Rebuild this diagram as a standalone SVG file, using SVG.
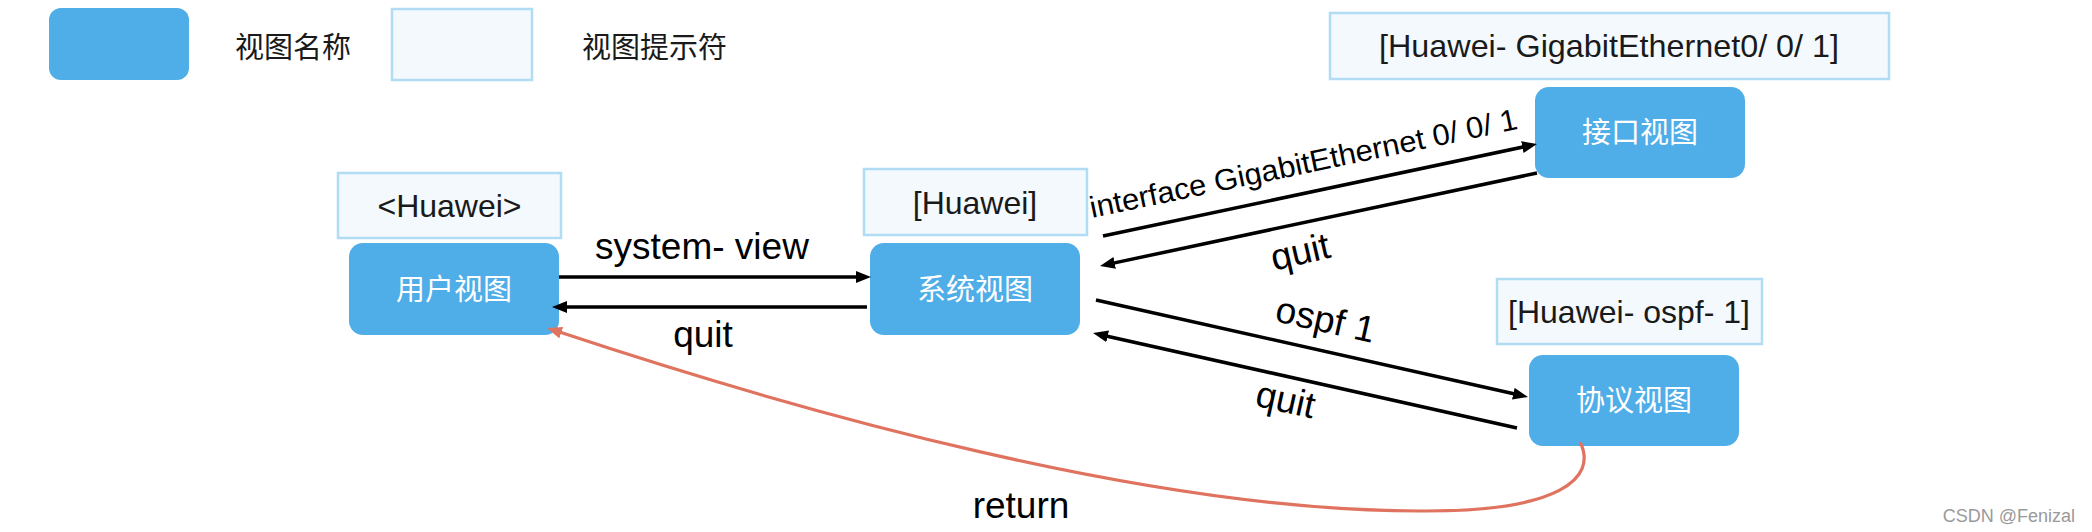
<svg xmlns="http://www.w3.org/2000/svg" width="2092" height="532" viewBox="0 0 2092 532">
<style>
.view{fill:#4fade7;}
.prompt{fill:#f3f9fd;stroke:#b0ddf4;stroke-width:2.5;}
.vt{font-family:"Noto Sans CJK SC","Noto Sans",sans-serif;font-size:29px;fill:#ffffff;text-anchor:middle;}
.lg{font-family:"Noto Sans CJK SC","Noto Sans",sans-serif;font-size:29px;fill:#1a1a1a;}
.pt{font-family:"Liberation Sans",Arial,sans-serif;font-size:32px;fill:#1a1a1a;text-anchor:middle;}
.lb{font-family:"Liberation Sans",Arial,sans-serif;font-size:37px;fill:#000000;}
.lbs{font-family:"Liberation Sans",Arial,sans-serif;font-size:30px;fill:#000000;}
.arr{fill:none;stroke:#000000;stroke-width:3.5;marker-end:url(#ah);}
.ret{fill:none;stroke:#e0735f;stroke-width:3.2;marker-end:url(#ahr);}
.wm{font-family:"Liberation Sans",Arial,sans-serif;font-size:18px;fill:#9a9a9a;text-anchor:end;}
</style>
<defs>
<marker id="ah" markerUnits="userSpaceOnUse" markerWidth="16" markerHeight="14" refX="5" refY="6" orient="auto">
<path d="M0,0 L15,6 L0,12 z" fill="#000000"/>
</marker>
<marker id="ahr" markerUnits="userSpaceOnUse" markerWidth="16" markerHeight="14" refX="5" refY="6" orient="auto">
<path d="M0,0 L15,6 L0,12 z" fill="#e0735f"/>
</marker>
</defs>
<rect width="2092" height="532" fill="#ffffff"/>

<g id="legend">
<rect class="view" x="49" y="8" width="140" height="72" rx="12"/>
<text class="lg" x="235" y="58">视图名称</text>
<rect class="prompt" x="392" y="9" width="140" height="71"/>
<text class="lg" x="582" y="58">视图提示符</text>
</g>

<g id="user-view">
<rect class="prompt" x="338" y="173" width="223" height="65"/>
<text class="pt" x="449.5" y="217">&lt;Huawei&gt;</text>
<rect class="view" x="349" y="243" width="210" height="92" rx="14"/>
<text class="vt" x="454" y="300">用户视图</text>
</g>

<g id="system-view">
<rect class="prompt" x="864" y="169" width="223" height="66"/>
<text class="pt" x="975" y="214">[Huawei]</text>
<rect class="view" x="870" y="243" width="210" height="92" rx="14"/>
<text class="vt" x="975" y="300">系统视图</text>
</g>

<g id="interface-view">
<rect class="prompt" x="1330" y="13" width="559" height="66"/>
<text class="pt" x="1609" y="57" textLength="460" lengthAdjust="spacingAndGlyphs">[Huawei- GigabitEthernet0/ 0/ 1]</text>
<rect class="view" x="1535" y="87" width="210" height="91" rx="14"/>
<text class="vt" x="1640" y="143">接口视图</text>
</g>

<g id="protocol-view">
<rect class="prompt" x="1497" y="279" width="265" height="65"/>
<text class="pt" x="1629" y="323">[Huawei- ospf- 1]</text>
<rect class="view" x="1529" y="355" width="210" height="91" rx="14"/>
<text class="vt" x="1634" y="411">协议视图</text>
</g>

<g id="connectors">
<path class="arr" d="M559,277 L861,277"/>
<path class="arr" d="M867,307 L562,307"/>
<path class="arr" d="M1103,236 L1527.2,146.1"/>
<path class="arr" d="M1537,173 L1109.8,263.9"/>
<path class="arr" d="M1096,300 L1518.2,394.8"/>
<path class="arr" d="M1517,428 L1102.8,335.2"/>
<path class="ret" d="M1580,442 C1598,478 1560,512 1420,511 C1150,511 800,412 556.5,331.1"/>
<text class="lb" x="702" y="259" text-anchor="middle">system- view</text>
<text class="lb" x="703" y="347" text-anchor="middle">quit</text>
<text class="lbs" x="1092" y="218" textLength="436" lengthAdjust="spacingAndGlyphs" transform="rotate(-11.8 1092 218)">interface GigabitEthernet 0/ 0/ 1</text>
<text class="lb" x="1303" y="264" text-anchor="middle" transform="rotate(-13 1303 264)">quit</text>
<text class="lb" x="1323" y="332" text-anchor="middle" transform="rotate(12.5 1323 332)">ospf 1</text>
<text class="lb" x="1283" y="412" text-anchor="middle" transform="rotate(12.5 1283 412)">quit</text>
<text class="lb" x="1021" y="518" text-anchor="middle">return</text>
</g>

<text class="wm" x="2075" y="522">CSDN @Fenizal</text>
</svg>
